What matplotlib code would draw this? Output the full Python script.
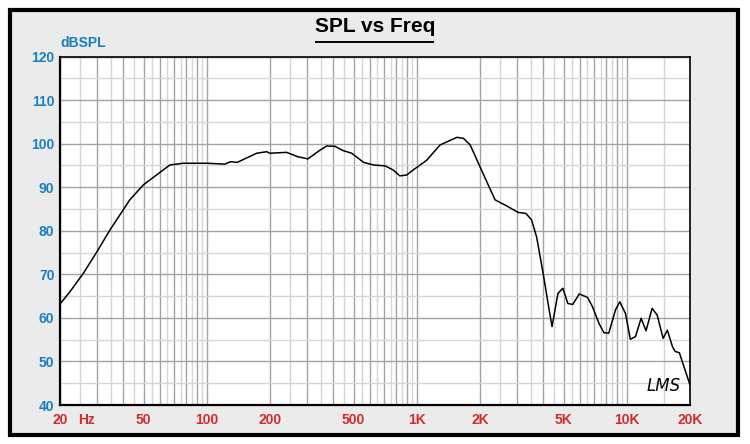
import numpy as np
import matplotlib.pyplot as plt
from matplotlib.patches import Rectangle
from matplotlib.lines import Line2D
from matplotlib.transforms import offset_copy
from matplotlib.ticker import FixedLocator, FixedFormatter, NullFormatter

plt.rcParams['font.family'] = ['Liberation Sans', 'DejaVu Sans']

# frequency response
freq = [20, 22.3, 25.8, 30, 34.6, 43, 49.8, 57.6, 66.7, 77.3, 100, 122, 129.6, 139.7,
        172.8, 192.6, 200, 240, 271, 303, 346, 372, 407, 446, 490, 558, 622, 707, 772,
        831, 895, 964, 1115, 1291, 1553, 1670, 1796, 2000, 2190, 2360, 2680, 3042, 3306,
        3520, 3720, 3997, 4220, 4405, 4700, 4960, 5240, 5530, 5940, 6500, 6860, 7370,
        7780, 8210, 8830, 9260, 9860, 10400, 11000, 11700, 12350, 13200, 13950, 14900,
        15600, 16500, 17000, 17800, 20000]
spl = [63.2, 66.0, 70.2, 75.2, 80.2, 87.1, 90.5, 92.8, 95.1, 95.5, 95.5, 95.3, 95.85, 95.7,
       97.8, 98.15, 97.8, 98.0, 97.0, 96.5, 98.5, 99.45, 99.4, 98.4, 97.8, 95.7, 95.1, 94.9, 93.95,
       92.6, 92.8, 94.0, 96.2, 99.7, 101.45, 101.2, 99.7, 94.7, 90.5, 87.1, 85.7, 84.2, 84.0,
       82.5, 78.6, 70.2, 63.3, 58.0, 65.6, 66.8, 63.3, 63.1, 65.5, 64.7, 62.6, 58.75,
       56.6, 56.5, 61.8, 63.7, 61.0, 55.1, 55.7, 59.9, 57.05, 62.2, 60.65, 55.3,
       57.2, 53.4, 52.3, 52.0, 44.6]

xtick_pos = [20, 50, 100, 200, 500, 1000, 2000, 5000, 10000, 20000]
xtick_lab = ['20', '50', '100', '200', '500', '1K', '2K', '5K', '10K', '20K']
yticks = [40, 50, 60, 70, 80, 90, 100, 110, 120]

blue = '#1a7fc1'
red = '#d42b2b'

fig = plt.figure(figsize=(7.5, 4.44), dpi=100)
fig.patch.set_facecolor('white')
fig.add_artist(Rectangle((0.0133, 0.0203), 0.9707, 0.9572, transform=fig.transFigure,
                         facecolor='#ebebeb', edgecolor='black', lw=3, zorder=-10))

ax = fig.add_axes([0.08, 0.0878, 0.84, 0.7849])
ax.set_facecolor('white')
ax.set_xscale('log')
ax.set_xlim(20, 20000)
ax.set_ylim(40, 120)

# grid: dark lines at 1,2,..9 x decade, light lines in between
dark = [m * d for d in (10, 100, 1000) for m in range(2, 10)] + [100, 1000, 10000, 20000]
dark = sorted(set(x for x in dark if 20 <= x <= 20000))
light = sorted(set((m + 0.5) * d for d in (10, 100, 1000) for m in range(2, 10)
                   if 20 < (m + 0.5) * d < 20000) | {15000})
ax.xaxis.set_major_locator(FixedLocator(dark))
ax.xaxis.set_major_formatter(FixedFormatter(
    [xtick_lab[xtick_pos.index(x)] if x in xtick_pos else '' for x in dark]))
ax.xaxis.set_minor_locator(FixedLocator(light))
ax.xaxis.set_minor_formatter(NullFormatter())
ax.set_yticks(yticks)
ax.set_yticks(np.arange(45, 120, 10), minor=True)

ax.grid(True, which='major', color='#a3a3a3', lw=1.0)
ax.grid(True, which='minor', color='#d6d6d6', lw=1.0)
ax.set_axisbelow(True)
ax.tick_params(which='both', length=0)
ax.tick_params(axis='x', pad=6, labelcolor=red, labelsize=10)
ax.tick_params(axis='y', pad=4, labelcolor=blue, labelsize=10)
for lab in ax.get_xticklabels() + ax.get_yticklabels():
    lab.set_fontweight('bold')
for s in ax.spines.values():
    s.set_color('black')
    s.set_linewidth(1.2)
ax.spines['left'].set_linewidth(1.6)
ax.spines['bottom'].set_linewidth(1.6)

ax.plot(freq, spl, color='black', lw=1.1)

hz_tr = offset_copy(ax.get_xaxis_transform(), fig=fig, y=-6, units='points')
ax.text(24.5, 0, 'Hz', transform=hz_tr, ha='left', va='top',
        color=red, fontsize=10, fontweight='bold')
fig.text(0.08, 0.887, 'dBSPL', color=blue, fontsize=10, fontweight='bold', ha='left', va='bottom')
t = fig.text(0.5, 0.918, 'SPL vs Freq', fontsize=15, fontweight='bold', ha='center', va='bottom')
fig.add_artist(Line2D([0.4213, 0.578], [0.905, 0.905], color='black', lw=1.4,
                      transform=fig.transFigure))
ax.text(0.985, 0.03, 'LMS', transform=ax.transAxes, ha='right', va='bottom',
        fontsize=12, style='italic', family='DejaVu Sans', fontweight='light')

fig.savefig('out.png', dpi=100)
